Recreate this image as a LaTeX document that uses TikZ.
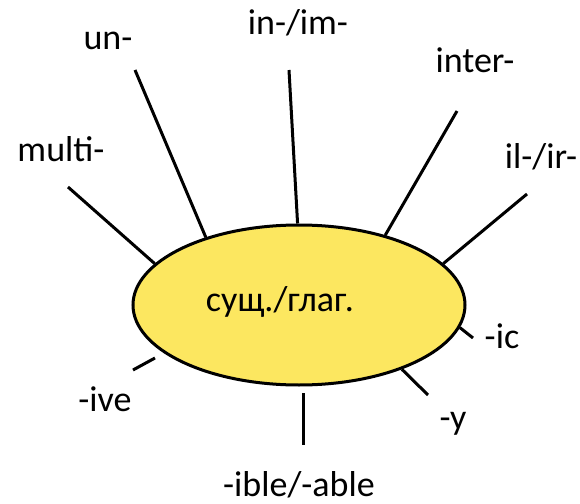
\documentclass[tikz,border=0pt]{standalone}
\usepackage{fontspec}
\setmainfont{Carlito}
\usepackage{tikz}
\usetikzlibrary{shapes.geometric, positioning}
\definecolor{sunyellow}{RGB}{252,231,96}

\begin{document}
\begin{tikzpicture}[x=0.5pt, y=-0.5pt,
        affix/.style={font=\fontsize{18}{21}\selectfont, inner sep=0pt},
        ray/.style={line width=1.5pt}]
    \useasboundingbox (0,0) rectangle (580,504);
    \node[ellipse, draw, line width=1.5pt, fill=sunyellow, minimum width=166pt, minimum height=80pt, inner sep=0pt] (stem) at (299,305) {};
    \node[affix] (stemtext) at (280,302) {сущ./глаг.};
    % prefixes
    \node[affix] (multi) at (61,149) {multi-};
    \node[affix] (un) at (108,41) {un-};
    \node[affix] (inim) at (298,23) {in-/im-};
    \node[affix] (inter) at (475,60) {inter-};
    \node[affix] (ilir) at (541,157) {il-/ir-};
    % suffixes
    \node[affix] (ic) at (502,336) {-ic};
    \node[affix] (y) at (453,424) {-y};
    \node[affix] (ibleable) at (299,485) {-ible/-able};
    \node[affix] (ive) at (105,399) {-ive};
    % free ends of the rays
    \coordinate (multiend) at (68,187);
    \coordinate (unend) at (135,70);
    \coordinate (inimend) at (289,70);
    \coordinate (interend) at (457,111);
    \coordinate (ilirend) at (527,194);
    \coordinate (icend) at (473,338);
    \coordinate (yend) at (428,395);
    \coordinate (ibletop) at (303,393);
    \coordinate (iblebot) at (303,445);
    \coordinate (ivetop) at (155,358);
    \coordinate (ivebot) at (133,370);
    \draw[ray] (multiend) -- (stem.164);
    \draw[ray] (unend) -- (stem.144.5);
    \draw[ray] (inimend) -- (stem.91);
    \draw[ray] (interend) -- (stem.39.3);
    \draw[ray] (ilirend) -- (stem.16.7);
    \draw[ray] (icend) -- (stem.-8.8);
    \draw[ray] (yend) -- (stem.-32);
    \draw[ray] (ibletop) -- (iblebot);
    \draw[ray] (ivetop) -- (ivebot);
\end{tikzpicture}
\end{document}
